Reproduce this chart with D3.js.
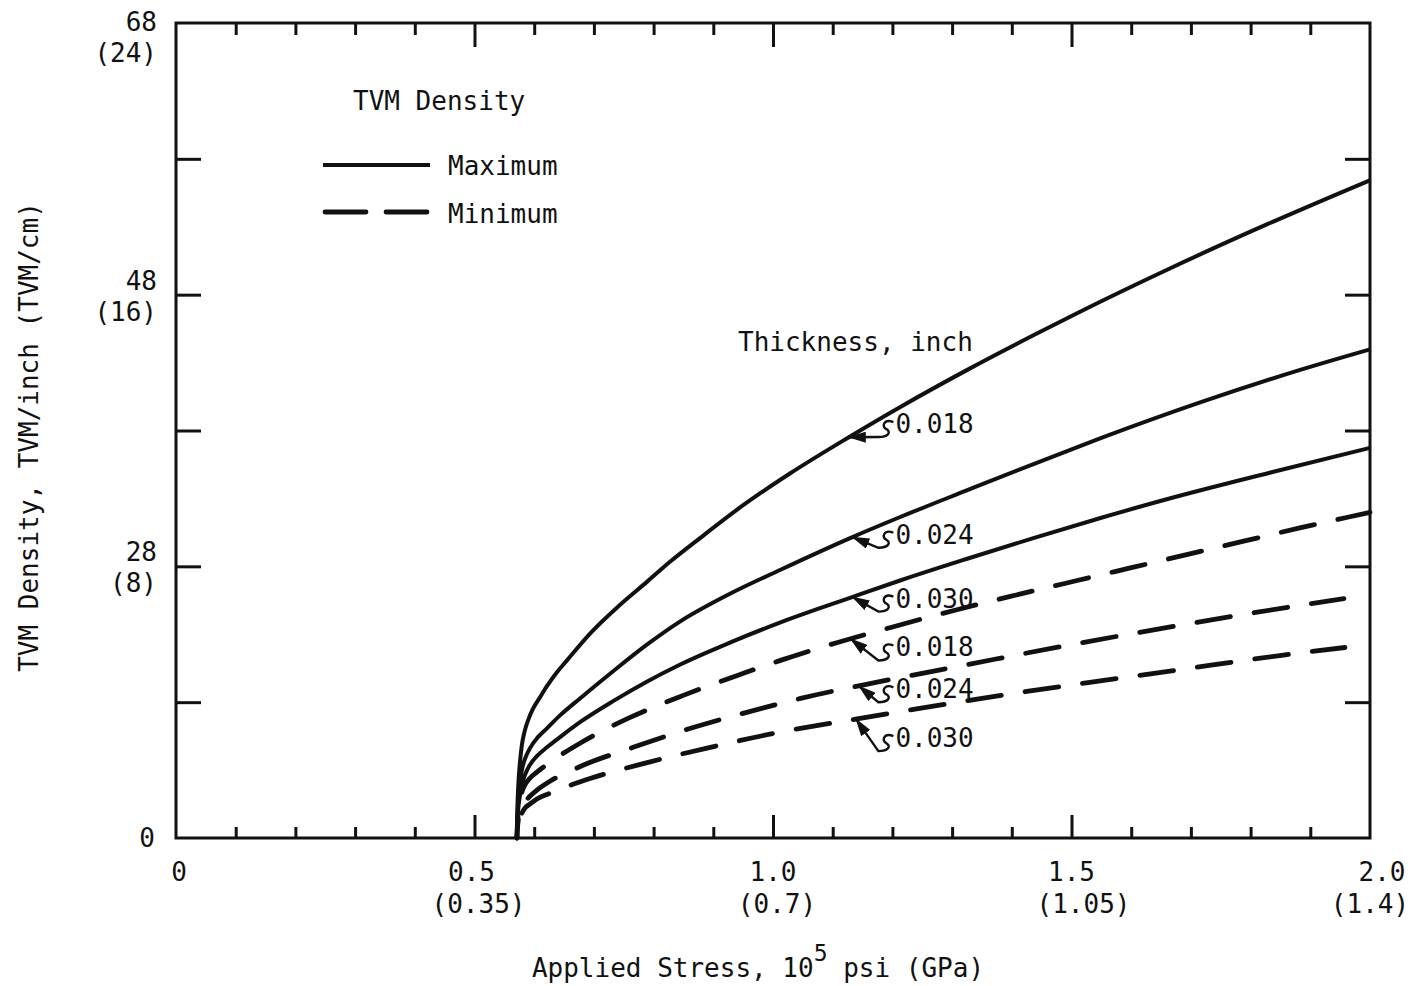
<!DOCTYPE html>
<html>
<head>
<meta charset="utf-8">
<script src="https://cdn.jsdelivr.net/npm/d3@7"></script>
<style>
  html, body { margin: 0; padding: 0; background: #fff; }
  svg text { font-family: "DejaVu Sans Mono", "Liberation Mono", monospace; fill: #111; }
</style>
</head>
<body>
<svg id="chart" width="1412" height="986"></svg>
<script>
// ---------------- DATA ----------------
// Applied stress, 10^5 psi
const xTickValues = [0, 0.5, 1.0, 1.5, 2.0];
const xTickLabels = ["0", "0.5", "1.0", "1.5", "2.0"];
const xTickLabelsGPa = ["", "(0.35)", "(0.7)", "(1.05)", "(1.4)"];
const xMinorTicks = d3.range(0, 2.0001, 0.1);

// TVM density axis (linear in TVM/cm)
const yTickValues = [0, 4, 8, 12, 16, 20, 24];
const yTickLabelsInch = ["0", "", "28", "", "48", "", "68"];
const yTickLabelsCm = ["", "", "(8)", "", "(16)", "", "(24)"];

// Curves (x: 10^5 psi, y: TVM/cm)
const max018x = [0.571, 0.5718, 0.5734, 0.5760, 0.5793, 0.5844, 0.5911, 0.5978, 0.6096, 0.6213, 0.6381, 0.6549, 0.6935, 0.7439, 0.7893, 0.8279, 0.8783, 0.950, 1.029, 1.125, 1.214, 1.327, 1.437, 1.511, 1.662, 1.830, 2.0];
const max018y = [0, 0.82, 1.56, 2.20, 2.73, 3.17, 3.53, 3.80, 4.14, 4.47, 4.88, 5.23, 6.02, 6.87, 7.55, 8.14, 8.84, 9.80, 10.74, 11.78, 12.70, 13.80, 14.81, 15.47, 16.75, 18.09, 19.37];

const max024x = [0.571, 0.5718, 0.5734, 0.5760, 0.5793, 0.5844, 0.5928, 0.6062, 0.6213, 0.6432, 0.6767, 0.7322, 0.7893, 0.8447, 0.9287, 1.0126, 1.1302, 1.2141, 1.3266, 1.4375, 1.5500, 1.7179, 1.8858, 2.0];
const max024y = [0, 0.59, 1.12, 1.59, 2.00, 2.32, 2.64, 2.97, 3.23, 3.61, 4.11, 4.91, 5.70, 6.38, 7.20, 7.90, 8.84, 9.46, 10.25, 11.02, 11.78, 12.84, 13.80, 14.39];

const max030x = [0.571, 0.5718, 0.5734, 0.5760, 0.5793, 0.5844, 0.5928, 0.6062, 0.6213, 0.6432, 0.6767, 0.7322, 0.7893, 0.8447, 0.9287, 1.0126, 1.1302, 1.2141, 1.3266, 1.4375, 1.5500, 1.6625, 1.8304, 2.0];
const max030y = [0, 0.47, 0.88, 1.23, 1.56, 1.85, 2.15, 2.44, 2.67, 2.97, 3.41, 4.03, 4.61, 5.11, 5.76, 6.35, 7.08, 7.59, 8.23, 8.84, 9.43, 9.99, 10.75, 11.49];

const min018x = [0.571, 0.5718, 0.5734, 0.5760, 0.5793, 0.5844, 0.5928, 0.6045, 0.6264, 0.6767, 0.7607, 0.8497, 0.9505, 1.0126, 1.0915, 1.1973, 1.3031, 1.4039, 1.5113, 1.6003, 1.6894, 1.7884, 1.8825, 1.9664, 2.0];
const min018y = [0, 0.38, 0.76, 1.09, 1.35, 1.56, 1.76, 1.94, 2.23, 2.79, 3.55, 4.20, 4.85, 5.23, 5.67, 6.20, 6.70, 7.14, 7.59, 7.96, 8.33, 8.74, 9.13, 9.46, 9.59];

const min024x = [0.571, 0.5718, 0.5734, 0.5760, 0.5793, 0.5844, 0.5928, 0.6045, 0.6264, 0.6818, 0.7657, 0.8564, 0.9622, 1.0462, 1.1805, 1.3266, 1.4828, 1.6121, 1.7767, 1.8858, 1.9563];
const min024y = [0, 0.26, 0.53, 0.76, 0.94, 1.06, 1.23, 1.41, 1.67, 2.14, 2.67, 3.20, 3.73, 4.11, 4.61, 5.11, 5.64, 6.05, 6.55, 6.86, 7.05];

const min030x = [0.571, 0.5718, 0.5734, 0.5760, 0.5793, 0.5844, 0.5928, 0.6045, 0.6264, 0.6935, 0.7893, 0.8950, 1.0008, 1.1385, 1.3820, 1.5248, 1.6709, 1.8522, 1.9580];
const min030y = [0, 0.21, 0.41, 0.59, 0.73, 0.88, 1.00, 1.15, 1.32, 1.75, 2.22, 2.67, 3.08, 3.50, 4.20, 4.57, 4.93, 5.38, 5.61];

const seriesNames = ["Maximum 0.018", "Maximum 0.024", "Maximum 0.030", "Minimum 0.018", "Minimum 0.024", "Minimum 0.030"];
const seriesThickness = ["0.018", "0.024", "0.030", "0.018", "0.024", "0.030"];
const seriesKind = ["max", "max", "max", "min", "min", "min"];
const seriesX = [max018x, max024x, max030x, min018x, min024x, min030x];
const seriesY = [max018y, max024y, max030y, min018y, min024y, min030y];

// Thickness annotations: arrow tip x on each curve; label position in data units
const annotTipX = [1.127, 1.133, 1.133, 1.130, 1.144, 1.139];
const annotLabelX = 1.205;
const annotLabelY = [12.19, 8.93, 7.05, 5.61, 4.38, 2.94];

// ---------------- LAYOUT ----------------
const svg = d3.select("#chart");
const M = { left: 176, right: 1370, top: 23, bottom: 838 };
const x = d3.scaleLinear().domain([0, 2.0]).range([M.left, M.right]);
const y = d3.scaleLinear().domain([0, 24]).range([M.bottom, M.top]);
const FS = 26;
const INK = "#111";

// frame
svg.append("rect")
  .attr("x", M.left).attr("y", M.top)
  .attr("width", M.right - M.left).attr("height", M.bottom - M.top)
  .attr("fill", "none").attr("stroke", INK).attr("stroke-width", 3);

function tickAxis(axis, transform) {
  const g = svg.append("g").attr("transform", transform).call(axis);
  g.select(".domain").remove();
  g.selectAll(".tick line").attr("stroke", INK).attr("stroke-width", 3);
  g.selectAll(".tick text").remove();
  return g;
}
const majorSet = new Set(xTickValues.map(v => v.toFixed(1)));
const xMinorOnly = xMinorTicks.filter(v => !majorSet.has(v.toFixed(1)));
tickAxis(d3.axisBottom(x).tickValues(xMinorOnly).tickSize(-11), `translate(0,${M.bottom})`);
tickAxis(d3.axisBottom(x).tickValues(xTickValues.slice(1, -1)).tickSize(-23), `translate(0,${M.bottom})`);
tickAxis(d3.axisTop(x).tickValues(xMinorOnly).tickSize(-12), `translate(0,${M.top})`);
tickAxis(d3.axisTop(x).tickValues(xTickValues.slice(1, -1)).tickSize(-24), `translate(0,${M.top})`);
const yInner = yTickValues.slice(1, -1);
tickAxis(d3.axisLeft(y).tickValues(yInner).tickSize(-25), `translate(${M.left},0)`);
tickAxis(d3.axisRight(y).tickValues(yInner).tickSize(-25), `translate(${M.right},0)`);

// x tick labels
const xNudge1 = [3, -3, 0, 0, 12];
const xNudge2 = [0, 4, 4, 12, 0];
xTickValues.forEach((v, i) => {
  svg.append("text").attr("x", x(v) + xNudge1[i]).attr("y", 872)
    .attr("text-anchor", "middle").attr("dominant-baseline", "central")
    .attr("font-size", FS).text(xTickLabels[i]);
  if (xTickLabelsGPa[i]) {
    svg.append("text").attr("x", x(v) + xNudge2[i]).attr("y", 904)
      .attr("text-anchor", "middle").attr("dominant-baseline", "central")
      .attr("font-size", FS).text(xTickLabelsGPa[i]);
  }
});

// y tick labels
yTickValues.forEach((v, i) => {
  const ty = y(v);
  if (!yTickLabelsInch[i]) return;
  if (!yTickLabelsCm[i]) {
    svg.append("text").attr("x", 155).attr("y", ty)
      .attr("text-anchor", "end").attr("dominant-baseline", "central")
      .attr("font-size", FS).text(yTickLabelsInch[i]);
    return;
  }
  const l1 = Math.max(ty - 14, 22);
  svg.append("text").attr("x", 157).attr("y", l1)
    .attr("text-anchor", "end").attr("dominant-baseline", "central")
    .attr("font-size", FS).text(yTickLabelsInch[i]);
  svg.append("text").attr("x", 157).attr("y", l1 + 31)
    .attr("text-anchor", "end").attr("dominant-baseline", "central")
    .attr("font-size", FS).text(yTickLabelsCm[i]);
});

// axis titles
const xt = svg.append("text").attr("x", 758).attr("y", 968)
  .attr("text-anchor", "middle").attr("dominant-baseline", "central").attr("font-size", FS);
xt.append("tspan").text("Applied Stress, 10");
xt.append("tspan").attr("dy", -15).attr("font-size", 23).text("5");
xt.append("tspan").attr("dy", 15).text(" psi (GPa)");

svg.append("text")
  .attr("transform", `translate(29,437) rotate(-90)`)
  .attr("text-anchor", "middle").attr("dominant-baseline", "central")
  .attr("font-size", FS).text("TVM Density, TVM/inch (TVM/cm)");

// curves
const DASH = 34, GAP = 24;
const line = d3.line().x(d => x(d[0])).y(d => y(d[1])).curve(d3.curveMonotoneX);
const seriesData = seriesX.map((xs, i) => xs.map((xv, j) => [xv, seriesY[i][j]]));
const paths = svg.append("g").selectAll("path").data(seriesData).join("path")
  .attr("d", d => line(d))
  .attr("fill", "none").attr("stroke", INK)
  .attr("stroke-width", (d, i) => seriesKind[i] === "max" ? 4 : 4.8)
  .attr("stroke-linecap", (d, i) => seriesKind[i] === "max" ? "butt" : "round")
  .attr("stroke-dasharray", (d, i) => seriesKind[i] === "max" ? null : `${DASH},${GAP}`);
// align dash pattern so each dashed curve ends with a full dash
paths.each(function (d, i) {
  if (seriesKind[i] !== "min") return;
  const L = this.getTotalLength();
  const period = DASH + GAP;
  const off = (((DASH - 1) - L) % period + period) % period;
  d3.select(this).attr("stroke-dashoffset", off);
});

// legend
svg.append("text").attr("x", 353).attr("y", 101).attr("dominant-baseline", "central")
  .attr("font-size", FS).text("TVM Density");
svg.append("line").attr("x1", 323).attr("x2", 430).attr("y1", 165).attr("y2", 165)
  .attr("stroke", INK).attr("stroke-width", 4);
svg.append("text").attr("x", 448).attr("y", 166).attr("dominant-baseline", "central")
  .attr("font-size", FS).text("Maximum");
svg.append("line").attr("x1", 325).attr("x2", 428).attr("y1", 212).attr("y2", 212)
  .attr("stroke", INK).attr("stroke-width", 4.8).attr("stroke-linecap", "round")
  .attr("stroke-dasharray", "41,20");
svg.append("text").attr("x", 448).attr("y", 214).attr("dominant-baseline", "central")
  .attr("font-size", FS).text("Minimum");

// annotations
svg.append("text").attr("x", 738).attr("y", 342).attr("dominant-baseline", "central")
  .attr("font-size", FS).text("Thickness, inch");

svg.append("defs").append("marker").attr("id", "ah").attr("viewBox", "0 0 18 11")
  .attr("refX", 17).attr("refY", 5.5).attr("markerWidth", 18).attr("markerHeight", 11)
  .attr("markerUnits", "userSpaceOnUse").attr("orient", "auto")
  .append("path").attr("d", "M0,0 L18,5.5 L0,11 Z").attr("fill", INK);

function interp(xs, ys, xv) {
  for (let k = 1; k < xs.length; k++) {
    if (xv <= xs[k]) {
      const t = (xv - xs[k - 1]) / (xs[k] - xs[k - 1]);
      return ys[k - 1] + t * (ys[k] - ys[k - 1]);
    }
  }
  return ys[ys.length - 1];
}

seriesThickness.forEach((t, i) => {
  const tx = x(annotTipX[i]);
  const ty = y(interp(seriesX[i], seriesY[i], annotTipX[i]));
  const lx = x(annotLabelX);
  const ly = y(annotLabelY[i]);
  svg.append("text").attr("x", lx).attr("y", ly).attr("dominant-baseline", "central")
    .attr("font-size", FS).text(t);
  const p = d3.path();
  p.moveTo(lx - 2, ly - 2);
  p.bezierCurveTo(lx - 12, ly - 6, lx - 14, ly + 3, lx - 9, ly + 5);
  p.bezierCurveTo(lx - 4, ly + 8, lx - 7, ly + 13, lx - 17, ly + 13);
  p.lineTo(tx, ty);
  svg.append("path").attr("d", p.toString()).attr("fill", "none")
    .attr("stroke", INK).attr("stroke-width", 2.4).attr("marker-end", "url(#ah)");
});
</script>
</body>
</html>
